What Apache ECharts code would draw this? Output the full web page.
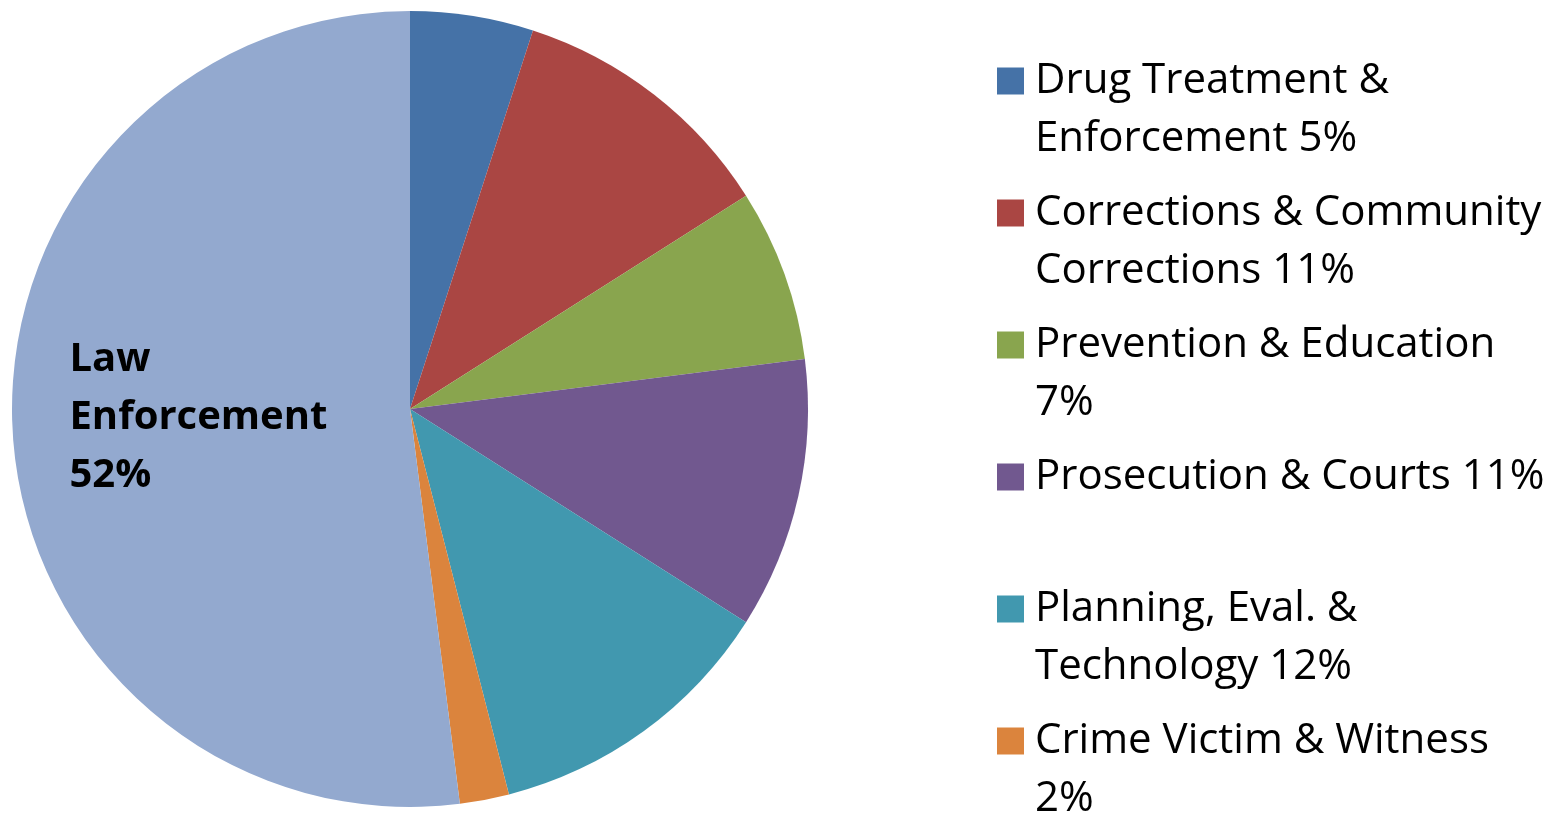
<!DOCTYPE html>
<html>
<head>
<meta charset="utf-8">
<script src="https://cdn.jsdelivr.net/npm/echarts@6/dist/echarts.min.js"></script>
<style>
html,body{margin:0;padding:0;background:#fff;}
#main{width:1557px;height:814px;}
</style>
</head>
<body>
<div id="main"></div>
<script>
var categories = ['Drug Treatment & Enforcement', 'Corrections & Community Corrections', 'Prevention & Education', 'Prosecution & Courts', 'Planning, Eval. & Technology', 'Crime Victim & Witness', 'Law Enforcement'];
var values = [5, 11, 7, 11, 12, 2, 52];
var colors = ['#4572A7', '#AA4643', '#89A54E', '#71588F', '#4198AF', '#DB843D', '#93A9CF'];
var legendLabels = [
  'Drug Treatment &\nEnforcement 5%',
  'Corrections & Community\nCorrections 11%',
  'Prevention & Education\n7%',
  'Prosecution & Courts 11%\n',
  'Planning, Eval. &\nTechnology 12%',
  'Crime Victim & Witness\n2%'
];
var sliceLabel = 'Law\nEnforcement\n52%';

var chart = echarts.init(document.getElementById('main'));
var data = categories.map(function (c, i) {
  var d = { name: c, value: values[i], itemStyle: { color: colors[i] } };
  if (c === 'Law Enforcement') {
    d.label = {
      show: true, position: 'inside', formatter: sliceLabel,
      fontFamily: 'Open Sans', fontWeight: 'bold', fontSize: 40, lineHeight: 58, color: '#000'
    };
  }
  return d;
});

chart.setOption({
  animation: false,
  backgroundColor: '#fff',
  legend: {
    orient: 'vertical',
    left: 997,
    top: -6,
    height: 1000,
    padding: 0,
    itemGap: -42,
    itemWidth: 27,
    itemHeight: 27,
    icon: 'rect',
    selectedMode: false,
    data: categories.slice(0, 6),
    formatter: function (name) {
      return '\n' + legendLabels[categories.indexOf(name)];
    },
    textStyle: {
      fontFamily: 'Open Sans', fontSize: 42, lineHeight: 58, color: '#000',
      padding: [0, 0, 0, 6]
    }
  },
  series: [{
    type: 'pie',
    center: [410, 409],
    radius: 398,
    startAngle: 90,
    clockwise: true,
    avoidLabelOverlap: false,
    label: { show: false },
    labelLine: { show: false },
    emphasis: { disabled: true },
    itemStyle: { borderWidth: 0 },
    labelLayout: function (p) {
      return {
        x: p.labelRect.x - 10,
        y: p.labelRect.y + p.labelRect.height / 2 - 4,
        align: 'left',
        verticalAlign: 'middle'
      };
    },
    data: data
  }]
});
</script>
</body>
</html>
